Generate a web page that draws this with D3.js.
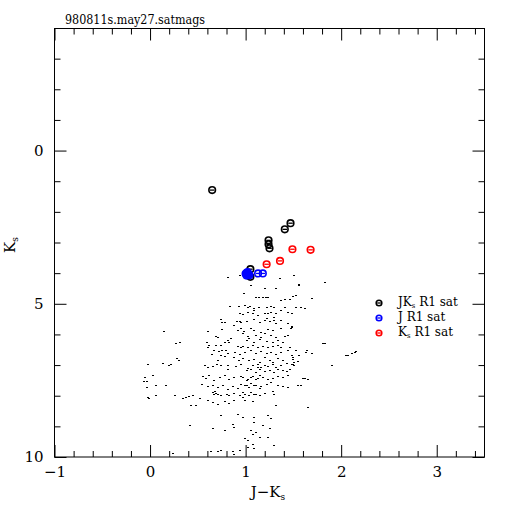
<!DOCTYPE html>
<html><head><meta charset="utf-8">
<script src="https://cdn.jsdelivr.net/npm/d3@7"></script>
<style>body{margin:0;background:#fff}svg{display:block}</style>
</head><body><svg id="c" width="512" height="512"></svg>
<script>
const titleText = "980811s.may27.satmags";
const xMajorTicks = [-1, 0, 1, 2, 3];
const yMajorTicks = [0, 5, 10];
const yMinorTicks = [-3, -2, -1, 1, 2, 3, 4, 6, 7, 8, 9];
const xDomain = [-1, 3.5];
const yDomain = [-4, 10];

// saturated stars (J-Ks, Ks)
const jkSatJK = [0.65, 1.47, 1.41, 1.24, 1.24, 1.25, 1.05, 1.05];
const jkSatKs = [1.29, 2.37, 2.57, 2.93, 3.06, 3.19, 3.87, 4.12];
const jSatJK = [1.00, 1.02, 1.04, 1.01, 1.03, 1.02, 1.01, 1.13, 1.18];
const jSatKs = [4.02, 3.97, 4.07, 4.08, 4.02, 4.05, 3.99, 4.01, 4.01];
const ksSatJK = [1.49, 1.68, 1.36, 1.22];
const ksSatKs = [3.22, 3.24, 3.60, 3.71];

const legendLabels = [["JK", "s", " R1 sat"], ["J R1 sat", "", ""], ["K", "s", " R1 sat"]];
const legendColors = ["#000000", "#0000ff", "#ff0000"];

// field stars [J-Ks, Ks]
const fieldStars = [
[0.81,4.12],[0.93,4.06],[0.97,4.66],[0.83,5.07],[0.92,5.07],[1.08,5.20],[0.93,5.29],[0.96,5.34],[0.73,5.50],[0.74,5.58],[0.77,5.60],[0.90,5.56],[0.93,5.55],[0.87,5.69],[0.94,5.80],[0.91,5.86],[0.97,5.89],[0.14,5.89],[0.60,5.89],[0.74,5.83],[0.68,6.04],[0.70,6.07],[0.84,6.13],[0.80,6.18],[0.26,6.27],[0.30,6.24],[0.59,6.24],[0.61,6.35],[0.60,6.42],[0.68,6.35],[0.73,6.35],[0.77,6.24],[0.82,6.24],[0.74,6.51],[0.78,6.51],[0.81,6.60],[0.66,6.51],[0.71,6.53],[0.64,6.64],[0.91,6.38],[0.94,6.42],[0.88,6.56],[0.93,6.64],[0.73,6.67],[0.77,6.70],[0.87,6.73],[0.92,6.83],[0.70,6.83],[0.27,6.78],[0.29,6.83],[0.12,6.94],[-0.03,6.98],[0.21,6.98],[0.56,7.00],[0.69,6.97],[0.81,7.00],
[1.35,4.17],[1.50,4.06],[1.82,4.28],[1.05,4.39],[1.19,4.49],[1.31,4.49],[1.55,4.39],[1.10,4.79],[1.13,4.79],[1.17,4.79],[1.20,4.77],[1.22,4.79],[1.36,4.88],[1.40,4.85],[1.45,4.84],[1.49,4.75],[1.52,4.71],[1.68,4.82],[0.98,5.04],[1.01,5.11],[1.04,5.07],[1.08,5.15],[1.13,5.10],[1.21,5.11],[1.26,5.07],[1.29,5.10],[1.40,5.11],[1.36,5.20],[1.52,5.11],[1.57,5.10],[1.61,5.15],[1.01,5.26],[1.07,5.31],[1.12,5.37],[1.19,5.29],[1.22,5.31],[1.26,5.26],[1.31,5.29],[1.43,5.26],[1.47,5.29],[0.94,5.58],[1.00,5.55],[1.08,5.51],[1.14,5.58],[1.19,5.53],[1.24,5.55],[1.29,5.53],[1.31,5.62],[1.36,5.53],[1.43,5.64],[1.21,5.47],[1.29,5.42],[1.47,5.73],[1.46,5.80],[1.48,5.77],[1.05,5.80],[1.08,5.86],[1.15,5.91],[1.22,5.83],[1.28,5.86],[1.36,5.80],[0.96,5.96],[1.01,6.05],[1.10,6.02],[1.15,6.07],[1.19,5.94],[1.25,6.02],[1.31,6.07],[1.40,6.05],[1.43,6.03],[1.00,6.18],[1.03,6.13],[1.08,6.24],[1.14,6.16],[1.21,6.20],[1.28,6.24],[1.33,6.18],[1.38,6.24],[1.80,6.27],[1.82,6.27],[0.96,6.38],[1.01,6.42],[1.07,6.35],[1.12,6.40],[1.17,6.38],[1.22,6.42],[1.28,6.38],[1.33,6.35],[1.36,6.42],[1.45,6.40],[1.52,6.51],[1.62,6.56],[0.98,6.56],[1.05,6.51],[1.10,6.62],[1.15,6.53],[1.21,6.60],[1.26,6.56],[1.31,6.64],[1.36,6.56],[1.43,6.51],[1.47,6.67],[1.55,6.67],[1.68,6.62],[2.06,6.67],[2.10,6.62],[2.13,6.56],[0.96,6.78],[1.03,6.83],[1.08,6.81],[1.14,6.89],[1.19,6.75],[1.24,6.83],[1.28,6.89],[1.33,6.78],[1.38,6.83],[1.42,6.92],[1.49,6.81],[1.50,6.89],[1.89,7.00],
[1.55,4.35],[1.49,6.75],[1.54,6.86],[1.49,6.96],[1.59,7.41],[1.61,7.41],[1.64,7.45],[2.04,6.67],[2.14,6.54],[1.63,6.50],[-0.06,7.40],[-0.07,7.51],[-0.04,7.53],[-0.04,7.73],[-0.02,8.08],
[0.19,7.01],[0.60,7.06],[0.65,7.03],[0.73,6.99],[0.81,7.12],[0.89,7.03],[0.94,6.96],[1.01,7.10],[1.07,7.01],[1.12,7.06],[0.02,7.33],[0.05,7.66],[0.16,7.66],[0.54,7.36],[0.58,7.42],[0.61,7.33],[0.66,7.50],[0.72,7.39],[0.77,7.33],[0.82,7.45],[0.87,7.39],[0.94,7.36],[1.00,7.50],[1.05,7.39],[1.10,7.45],[1.14,7.33],[0.53,7.61],[0.60,7.68],[0.65,7.64],[0.70,7.72],[0.75,7.66],[0.81,7.77],[0.86,7.68],[0.91,7.75],[0.98,7.66],[1.03,7.72],[1.08,7.64],[1.14,7.75],[0.65,7.88],[0.68,7.90],[0.70,7.93],[0.66,7.93],[0.67,7.85],[0.73,7.97],[0.79,7.93],[0.82,7.99],[0.87,7.90],[0.93,7.97],[0.98,7.93],[1.05,7.88],[1.10,7.93],[1.14,7.99],[-0.03,8.04],[0.05,7.99],[0.25,7.97],[0.33,8.08],[0.37,8.04],[0.40,8.01],[0.44,7.99],[0.51,8.08],[0.42,8.31],[0.47,8.29],[0.60,8.15],[0.65,8.21],[0.70,8.26],[0.77,8.18],[0.82,8.23],[0.87,8.15],[0.73,8.64],[0.91,8.59],[0.96,8.70],[0.41,8.95],[0.65,9.04],[0.86,8.91],[0.87,9.02],[0.77,9.13],[1.05,9.13],[1.07,9.24],[1.01,9.46],[1.14,9.35],[0.23,9.88],[0.63,9.81],[0.70,9.81],[0.73,9.78],[0.86,9.81],[0.87,9.89],[0.93,9.78],
[1.12,6.96],[1.15,7.06],[1.19,6.99],[1.22,7.03],[1.28,6.96],[1.31,7.06],[1.36,6.99],[1.47,6.96],[1.50,6.99],[1.00,7.17],[1.05,7.14],[1.10,7.23],[1.14,7.12],[1.19,7.20],[1.24,7.17],[1.29,7.23],[1.33,7.14],[1.38,7.17],[1.42,7.20],[1.45,7.12],[0.96,7.39],[1.01,7.45],[1.07,7.36],[1.12,7.42],[1.17,7.39],[1.22,7.47],[1.28,7.42],[1.33,7.36],[1.38,7.39],[1.43,7.33],[1.54,7.66],[1.57,7.64],[0.94,7.61],[1.00,7.66],[1.05,7.58],[1.10,7.64],[1.15,7.68],[1.21,7.61],[1.26,7.55],[1.33,7.66],[1.38,7.68],[1.43,7.72],[0.96,7.88],[1.03,7.97],[1.08,7.93],[1.19,7.90],[1.28,7.86],[1.29,7.93],[0.96,8.04],[0.98,8.15],[1.07,8.18],[1.31,8.31],[1.64,8.37],[1.08,8.70],[1.22,8.64],[1.26,8.73],[1.08,8.86],[1.17,8.95],[1.24,9.05],[1.10,9.18],[1.22,9.35],[0.98,9.38],[1.07,9.57],[1.29,9.62],[1.01,9.67],[1.08,9.71]
];

const svg = d3.select("#c");
const FONT = "'DejaVu Serif', 'Liberation Serif', serif";
const x = d3.scaleLinear().domain(xDomain).range([54.5, 484.5]);
const y = d3.scaleLinear().domain(yDomain).range([28, 457]);
const xMinorTicks = d3.range(-1, 3.5001, 0.2).map(v => +v.toFixed(2)).filter(v => !xMajorTicks.includes(v));

// field stars
svg.append("g").attr("shape-rendering", "crispEdges")
  .selectAll("rect").data(fieldStars).join("rect")
  .attr("x", d => Math.round(x(d[0])))
  .attr("y", d => Math.round(y(d[1])))
  .attr("width", 1.5).attr("height", 1.2).attr("fill", "#000");

function marker(g, cx, cy, color, r) {
  g.append("circle").attr("cx", cx).attr("cy", cy).attr("r", r)
    .attr("fill", "none").attr("stroke", color).attr("stroke-width", 1.6);
  g.append("line").attr("x1", cx - r + 1).attr("x2", cx + r - 1).attr("y1", cy).attr("y2", cy)
    .attr("stroke", color).attr("stroke-width", 1.3);
}
const mg = svg.append("g");
jkSatJK.forEach((v, i) => marker(mg, x(v), y(jkSatKs[i]), legendColors[0], 3.3));
jSatJK.forEach((v, i) => marker(mg, x(v), y(jSatKs[i]), legendColors[1], 3.3));
ksSatJK.forEach((v, i) => marker(mg, x(v), y(ksSatKs[i]), legendColors[2], 3.3));

// frame
svg.append("rect").attr("x", 54.5).attr("y", 28.5).attr("width", 430).attr("height", 428.5)
  .attr("fill", "none").attr("stroke", "#000").attr("stroke-width", 1);

function styleAxis(g) {
  g.select(".domain").remove();
  g.selectAll("line").attr("stroke", "#000").attr("stroke-width", 1);
  g.selectAll("text").attr("font-family", FONT).attr("font-size", 15).attr("fill", "#000");
}
svg.append("g").attr("transform", `translate(0,457)`)
  .call(d3.axisBottom(x).tickValues(xMinorTicks).tickSize(-6).tickFormat("")).call(styleAxis);
svg.append("g").attr("transform", `translate(0,457)`)
  .call(d3.axisBottom(x).tickValues(xMajorTicks).tickSize(-12).tickPadding(9).tickFormat(d3.format("d"))).call(styleAxis);
svg.append("g").attr("transform", `translate(0,28.5)`)
  .call(d3.axisTop(x).tickValues(xMinorTicks).tickSize(-6).tickFormat("")).call(styleAxis);
svg.append("g").attr("transform", `translate(0,28.5)`)
  .call(d3.axisTop(x).tickValues(xMajorTicks).tickSize(-12).tickFormat("")).call(styleAxis);
svg.append("g").attr("transform", `translate(54.5,0)`)
  .call(d3.axisLeft(y).tickValues(yMinorTicks).tickSize(-6).tickFormat("")).call(styleAxis);
svg.append("g").attr("transform", `translate(54.5,0)`)
  .call(d3.axisLeft(y).tickValues(yMajorTicks).tickSize(-12).tickPadding(11).tickFormat(d3.format("d"))).call(styleAxis);
svg.append("g").attr("transform", `translate(484.5,0)`)
  .call(d3.axisRight(y).tickValues(yMinorTicks).tickSize(-6).tickFormat("")).call(styleAxis);
svg.append("g").attr("transform", `translate(484.5,0)`)
  .call(d3.axisRight(y).tickValues(yMajorTicks).tickSize(-12).tickFormat("")).call(styleAxis);

// title
svg.append("text").attr("x", 65).attr("y", 24).attr("font-family", FONT).attr("font-size", 12)
  .attr("textLength", 140).attr("lengthAdjust", "spacingAndGlyphs").text(titleText);

// x label
const xl = svg.append("text").attr("x", 268).attr("y", 497).attr("text-anchor", "middle")
  .attr("font-family", FONT).attr("font-size", 15);
xl.append("tspan").text("J\u2212K");
xl.append("tspan").attr("font-size", 9).attr("dy", 3).text("s");

// y label
const yl = svg.append("text").attr("transform", "translate(15,245) rotate(-90)").attr("text-anchor", "middle")
  .attr("font-family", FONT).attr("font-size", 15);
yl.append("tspan").text("K");
yl.append("tspan").attr("font-size", 9).attr("dy", 3).text("s");

// legend
const lg = svg.append("g");
const legY = [303, 318, 333];
legendLabels.forEach((lab, i) => {
  marker(lg, 379, legY[i], legendColors[i], 2.8);
  const t = lg.append("text").attr("x", 398).attr("y", legY[i] + 3).attr("font-family", FONT).attr("font-size", 12);
  t.append("tspan").text(lab[0]);
  if (lab[1]) {
    t.append("tspan").attr("font-size", 7).attr("dy", 1.5).text(lab[1]);
    t.append("tspan").attr("dy", -1.5).text(lab[2]);
  }
});
</script>
</body></html>
